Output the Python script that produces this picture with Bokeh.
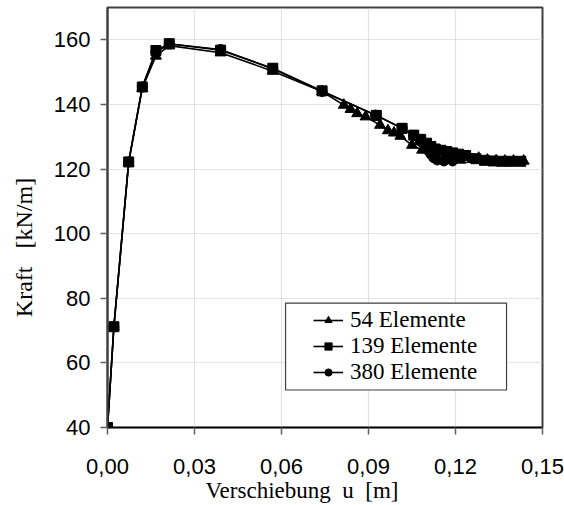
from bokeh.plotting import figure
from bokeh.models import Range1d, FixedTicker, Legend, LegendItem, BoxAnnotation
from bokeh.embed import file_html
from bokeh.resources import INLINE

# ---- data ----
u54 = [0, 0.0022, 0.0073, 0.012, 0.0167, 0.0213, 0.039, 0.057, 0.074, 0.0815,
       0.0838, 0.0861, 0.089, 0.094, 0.0967, 0.0988, 0.101, 0.105, 0.1085,
       0.113, 0.117, 0.1217, 0.1257, 0.128, 0.131, 0.134, 0.137, 0.140, 0.1435]
f54 = [40, 71.2, 122.0, 145.0, 155.0, 158.2, 156.0, 150.3, 144.0, 139.8,
       138.5, 137.2, 136.2, 133.6, 131.9, 131.2, 130.2, 127.4, 125.9,
       123.6, 122.8, 122.8, 123.0, 123.4, 122.8, 122.6, 122.5, 122.5, 122.5]

u139 = [0, 0.0022, 0.0073, 0.012, 0.0167, 0.0213, 0.039, 0.057, 0.074, 0.0927,
        0.1016, 0.1056, 0.108, 0.110, 0.1115, 0.113, 0.115, 0.117, 0.119, 0.121,
        0.1235, 0.127, 0.130, 0.133, 0.136, 0.139, 0.1425]
f139 = [40, 71.2, 122.2, 145.4, 156.7, 158.8, 156.8, 151.2, 144.2, 136.6,
        132.6, 130.5, 129.2, 128.0, 127.0, 126.2, 125.8, 125.4, 125.0, 124.6,
        124.2, 123.2, 122.7, 122.5, 122.4, 122.4, 122.4]

u380 = [0, 0.0022, 0.0073, 0.012, 0.0167, 0.0213, 0.039, 0.057, 0.074, 0.0924,
        0.1016, 0.1056, 0.108, 0.1095, 0.1105, 0.1115, 0.1125, 0.1137, 0.116, 0.119]
f380 = [40, 71.2, 122.2, 145.4, 156.2, 158.7, 157.0, 151.0, 144.0, 136.7,
        132.6, 130.3, 128.5, 127.0, 125.8, 124.6, 123.5, 122.8, 122.5, 122.5]

series_names = ["54 Elemente", "139 Elemente", "380 Elemente"]
x_ticks = [0.0, 0.03, 0.06, 0.09, 0.12, 0.15]
x_tick_labels = ["0,00", "0,03", "0,06", "0,09", "0,12", "0,15"]
y_ticks = [40, 60, 80, 100, 120, 140, 160]
x_title = "Verschiebung\u00a0\u00a0u\u00a0\u00a0[m]"
y_title = "Kraft\u00a0\u00a0\u00a0[kN/m]"

SANS = "Liberation Sans"
SERIF = "Liberation Serif"
NB = "\u00a0"

p = figure(width=564, height=505, output_backend="svg", toolbar_location=None,
           x_range=Range1d(0, 0.15), y_range=Range1d(40, 170),
           min_border_left=107, min_border_right=22, min_border_top=7,
           min_border_bottom=77)
p.background_fill_color = "white"
p.border_fill_color = "white"
p.outline_line_color = "#404040"
p.outline_line_width = 2

# axes
p.xaxis.ticker = FixedTicker(ticks=x_ticks)
p.xaxis.major_label_overrides = {t: l for t, l in zip(x_ticks, x_tick_labels)}
p.yaxis.ticker = FixedTicker(ticks=y_ticks)
for ax in (p.xaxis, p.yaxis):
    ax.major_label_text_font = SANS
    ax.major_label_text_font_size = "22px"
    ax.major_label_text_color = "black"
    ax.minor_tick_line_color = None
    ax.major_tick_in = 0
    ax.major_tick_out = 7
    ax.major_tick_line_color = "#606060"
    ax.major_tick_line_width = 1.5
    ax.axis_label_text_font = SERIF
    ax.axis_label_text_font_style = "normal"
    ax.axis_label_text_color = "black"
p.xaxis.axis_line_color = "black"
p.xaxis.axis_line_width = 1.5
p.yaxis.axis_line_color = "#404040"
p.yaxis.axis_line_width = 2
p.xaxis.major_label_standoff = 24
p.yaxis.major_label_standoff = 10

p.xaxis.axis_label = x_title + NB * 8
p.xaxis.axis_label_text_font_size = "23px"
p.xaxis.axis_label_standoff = 1
p.yaxis.axis_label = y_title + NB * 10
p.yaxis.axis_label_text_font_size = "24px"
p.yaxis.axis_label_standoff = 14

# grid
for g in (p.xgrid, p.ygrid):
    g.grid_line_color = "#c8c8c8"
    g.grid_line_dash = "1 1"
    g.grid_line_width = 1.2
p.xgrid.ticker = FixedTicker(ticks=x_ticks)
p.ygrid.ticker = FixedTicker(ticks=y_ticks)

# series
l1 = p.line(u54, f54, line_color="black", line_width=1.6)
l2 = p.line(u139, f139, line_color="black", line_width=1.6)
l3 = p.line(u380, f380, line_color="black", line_width=1.6)
m1 = p.scatter(u54, f54, marker="triangle", size=11, fill_color="black", line_color="black")
m2 = p.scatter(u139, f139, marker="square", size=10, fill_color="black", line_color="black")
m3 = p.scatter(u380, f380, marker="circle", size=10, fill_color="black", line_color="black")

# legend-only marker renderers (placed outside the visible range)
lg1 = p.scatter([-1], [-1], marker="triangle", size=9, fill_color="black", line_color="black")
lg2 = p.scatter([-1], [-1], marker="square", size=8, fill_color="black", line_color="black")
lg3 = p.scatter([-1], [-1], marker="circle", size=8, fill_color="black", line_color="black")

# legend frame
box = BoxAnnotation(left=0.0614, right=0.1376, bottom=51.6, top=78.5,
                    fill_color="white", fill_alpha=1, line_color="#404040",
                    line_width=1.2, line_alpha=1)
p.add_layout(box)

legend = Legend(items=[
    LegendItem(label=series_names[0], renderers=[l1, lg1]),
    LegendItem(label=series_names[1], renderers=[l2, lg2]),
    LegendItem(label=series_names[2], renderers=[l3, lg3]),
], location=(206, 42))
legend.label_text_font = SERIF
legend.label_text_font_size = "23px"
legend.label_text_color = "black"
legend.glyph_width = 30
legend.glyph_height = 18
legend.label_height = 18
legend.label_standoff = 7
legend.spacing = 0
legend.padding = 0
legend.margin = 0
legend.border_line_color = None
legend.background_fill_alpha = 0
p.add_layout(legend, "center")

open("out.html", "w").write(file_html(p, INLINE))
